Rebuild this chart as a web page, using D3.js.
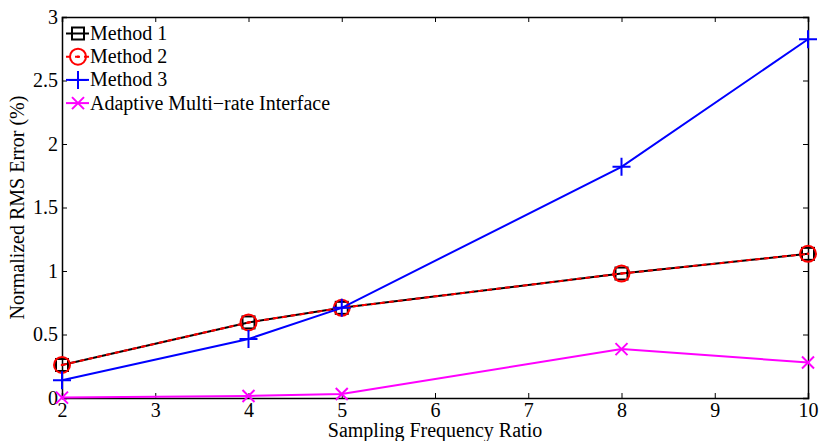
<!DOCTYPE html>
<html>
<head>
<meta charset="utf-8">
<script src="https://cdn.jsdelivr.net/npm/d3@7"></script>
<style>
  body { margin: 0; background: #fff; }
  text { font-family: "Liberation Serif", "Times New Roman", serif; }
</style>
</head>
<body>
<div id="chart"></div>
<script>
// Data
const ratios = [2, 4, 5, 8, 10];
const method1 = [0.26, 0.595, 0.71, 0.98, 1.135];
const method2 = [0.26, 0.595, 0.71, 0.98, 1.135];
const method3 = [0.14, 0.465, 0.71, 1.82, 2.825];
const adaptive = [0.003, 0.016, 0.031, 0.385, 0.28];
const xTicks = [2, 3, 4, 5, 6, 7, 8, 9, 10];
const yTicks = [0, 0.5, 1, 1.5, 2, 2.5, 3];

const seriesList = [
    { name: "Method 1", values: method1, color: "#000", marker: "square", dash: null },
    { name: "Method 2", values: method2, color: "#f00", marker: "circle", dash: "5,4" },
    { name: "Method 3", values: method3, color: "#00f", marker: "plus", dash: null },
    { name: "Adaptive Multi\u2212rate Interface", values: adaptive, color: "#f0f", marker: "cross", dash: null }
];

const width = 819;
const height = 441;
const margin = { top: 17, right: 11, bottom: 43, left: 62 };

const svg = d3.select("#chart")
    .append("svg")
    .attr("width", width)
    .attr("height", height);

const x = d3.scaleLinear()
    .domain([2, 10])
    .range([margin.left, width - margin.right]);

const y = d3.scaleLinear()
    .domain([0, 3])
    .range([height - margin.bottom, margin.top]);

// axes with inward ticks (box style)
const fontSize = 20;
const bottomAxis = svg.append("g")
    .attr("transform", `translate(0, ${height - margin.bottom})`)
    .call(d3.axisBottom(x).tickValues(xTicks).tickSize(-5).tickPadding(5).tickFormat(d3.format("d")));
const topAxis = svg.append("g")
    .attr("transform", `translate(0, ${margin.top})`)
    .call(d3.axisTop(x).tickValues(xTicks).tickSize(-5).tickFormat(""));
const leftAxis = svg.append("g")
    .attr("transform", `translate(${margin.left}, 0)`)
    .call(d3.axisLeft(y).tickValues(yTicks).tickSize(-5).tickPadding(4).tickFormat(d => d));
const rightAxis = svg.append("g")
    .attr("transform", `translate(${width - margin.right}, 0)`)
    .call(d3.axisRight(y).tickValues(yTicks).tickSize(-5).tickFormat(""));

[bottomAxis, topAxis, leftAxis, rightAxis].forEach(g => {
    g.select(".domain").attr("stroke", "#000").attr("stroke-width", 1.5);
    g.selectAll(".tick line").attr("stroke", "#000").attr("stroke-width", 1);
    g.selectAll("text")
        .attr("fill", "#000")
        .style("font-size", fontSize + "px")
        .style("font-family", "Liberation Serif, serif");
});

// axis titles
svg.append("text")
    .attr("x", (margin.left + width - margin.right) / 2)
    .attr("y", 437)
    .attr("text-anchor", "middle")
    .style("font-size", fontSize + "px")
    .text("Sampling Frequency Ratio");

svg.append("text")
    .attr("transform", `translate(24, ${(margin.top + height - margin.bottom) / 2}) rotate(-90)`)
    .attr("text-anchor", "middle")
    .style("font-size", fontSize + "px")
    .text("Normalized RMS Error (%)");

// markers
function drawMarker(g, type, color, cx, cy) {
    if (type === "square") {
        g.append("rect")
            .attr("x", cx - 6).attr("y", cy - 6)
            .attr("width", 12).attr("height", 12)
            .attr("fill", "none").attr("stroke", color).attr("stroke-width", 2);
    } else if (type === "circle") {
        g.append("circle")
            .attr("cx", cx).attr("cy", cy).attr("r", 8)
            .attr("fill", "none").attr("stroke", color).attr("stroke-width", 2);
        g.append("circle")
            .attr("cx", cx).attr("cy", cy).attr("r", 1.3)
            .attr("fill", color);
    } else if (type === "plus") {
        g.append("path")
            .attr("d", `M${cx - 9},${cy}H${cx + 9}M${cx},${cy - 9}V${cy + 9}`)
            .attr("stroke", color).attr("stroke-width", 2);
    } else if (type === "cross") {
        g.append("path")
            .attr("d", `M${cx - 6},${cy - 6}L${cx + 6},${cy + 6}M${cx - 6},${cy + 6}L${cx + 6},${cy - 6}`)
            .attr("stroke", color).attr("stroke-width", 2);
    }
}

const line = d3.line()
    .x(d => x(d.x))
    .y(d => y(d.y));

seriesList.forEach(s => {
    const pts = ratios.map((r, i) => ({ x: r, y: s.values[i] }));
    const g = svg.append("g");
    g.append("path")
        .datum(pts)
        .attr("d", line)
        .attr("fill", "none")
        .attr("stroke", s.color)
        .attr("stroke-width", 2)
        .attr("stroke-dasharray", s.dash);
    pts.forEach(p => drawMarker(g, s.marker, s.color, x(p.x), y(p.y)));
});

// legend (no box)
const legend = svg.append("g");
seriesList.forEach((s, i) => {
    const ly = 33.5 + i * 23.2;
    legend.append("line")
        .attr("x1", 66).attr("x2", 89)
        .attr("y1", ly).attr("y2", ly)
        .attr("stroke", s.color).attr("stroke-width", 2)
        .attr("stroke-dasharray", s.dash);
    drawMarker(legend, s.marker, s.color, 78, ly);
    legend.append("text")
        .attr("x", 90)
        .attr("y", ly + 6.5)
        .style("font-size", fontSize + "px")
        .text(s.name);
});
</script>
</body>
</html>
